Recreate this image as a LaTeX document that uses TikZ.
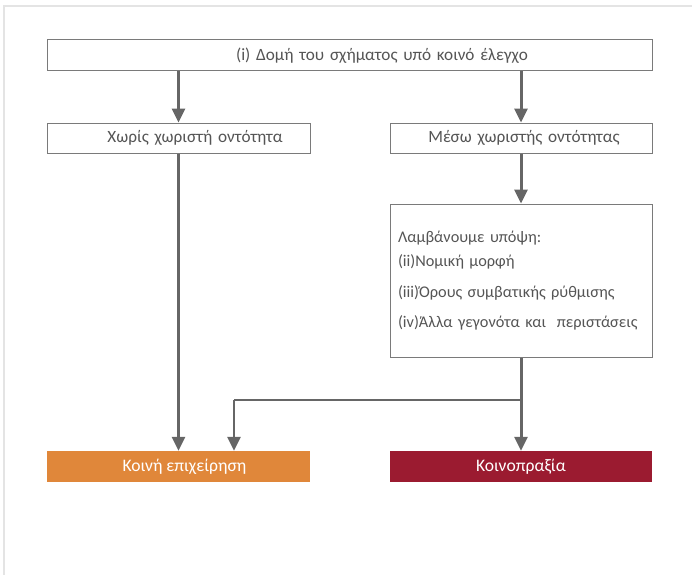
\documentclass[tikz,border=0pt]{standalone}
\usepackage{fontspec}
\setmainfont{Carlito}
\usetikzlibrary{arrows.meta}
\definecolor{txt}{HTML}{555555}
\definecolor{arr}{HTML}{666666}
\definecolor{boxline}{HTML}{7A7A7A}
\definecolor{frame}{HTML}{E4E4E4}
\definecolor{orng}{HTML}{E0873A}
\definecolor{dred}{HTML}{9B1B30}
\tikzset{
  box/.style={draw=boxline, line width=1pt, fill=white, inner sep=0pt, text=txt, font=\fontsize{17.2}{20}\selectfont, align=center},
  fillbox/.style={draw=none, inner sep=0pt, text=white, font=\fontsize{17.6}{20}\selectfont, align=center},
  flow/.style={draw=arr, line width=3pt, -{Triangle[width=13pt,length=14pt]}},
  thinflow/.style={draw=arr, line width=2pt},
}
\begin{document}
\begin{tikzpicture}[x=1pt,y=-1pt]
\useasboundingbox (0,0) rectangle (692,575);
\draw[frame, line width=1.5pt] (4,575) -- (4,6) -- (692,6);
\node[box, minimum width=605pt, minimum height=31pt, text width=600pt] (top) at (349.5,55.5) {\hspace*{65pt}(i) Δομή του σχήματος υπό κοινό έλεγχο};
\node[box, minimum width=263pt, minimum height=30pt, text width=258pt] (left) at (178.5,138) {\hspace*{33pt}Χωρίς χωριστή οντότητα};
\node[box, minimum width=262pt, minimum height=30pt, text width=257pt] (right) at (521,138) {\hspace*{6pt}Μέσω χωριστής οντότητας};
\node[box, minimum width=262pt, minimum height=153pt, text width=246pt, align=left, font=\fontsize{16.3}{19}\selectfont] (cons) at (521,280.5) {Λαμβάνουμε υπόψη:\\[5pt](ii)Νομική μορφή\\[12pt](iii)Όρους συμβατικής ρύθμισης\\[11pt](iv)Άλλα γεγονότα και \ περιστάσεις};
\node[fillbox, fill=orng, minimum width=263pt, minimum height=31pt] (jv) at (178.5,466.5) {\hspace*{12pt}Κοινή επιχείρηση};
\node[fillbox, fill=dred, minimum width=262pt, minimum height=31pt] (jo) at (521,466.5) {Κοινοπραξία};
\coordinate (br) at (521,400);
\coordinate (bl) at (234,400);
\draw[flow] (top.south -| left.north) -- (left.north);
\draw[flow] (top.south -| right.north) -- (right.north);
\draw[flow] (right.south) -- (cons.north);
\draw[flow] (left.south) -- (jv.north);
\draw[flow] (cons.south) -- (jo.north);
\draw[thinflow] (br) -- (bl);
\draw[thinflow, line width=2.5pt, -{Triangle[width=13pt,length=14pt]}] (bl) -- (bl |- jv.north);
\end{tikzpicture}
\end{document}
